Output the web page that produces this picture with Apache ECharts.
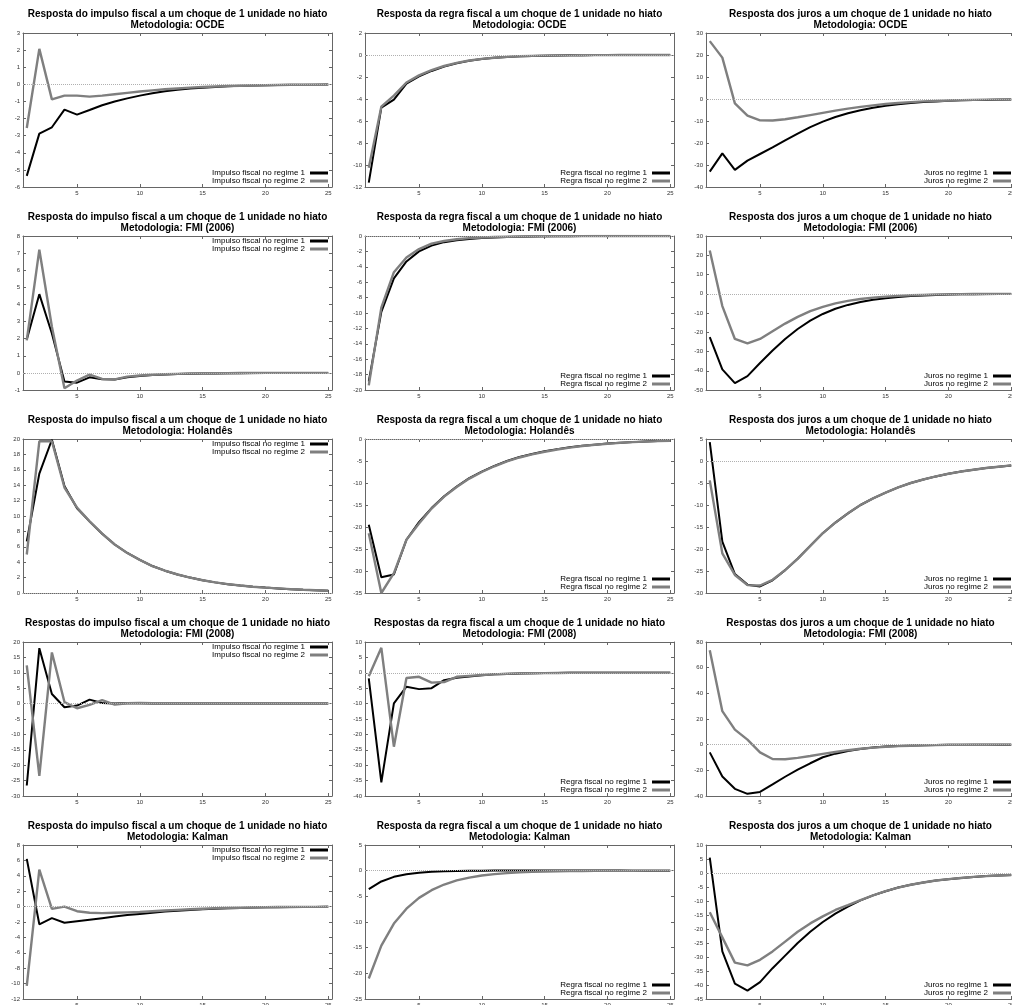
<!DOCTYPE html>
<html>
<head>
<meta charset="utf-8">
<script src="https://cdn.jsdelivr.net/npm/echarts@6/dist/echarts.min.js"></script>
<style>
  html, body { margin: 0; background: #fff; }
  #chart { width: 1012px; height: 1005px; }
</style>
</head>
<body>
<div id="chart"></div>
<script>
// horizon (periods after the shock)
const HORIZON = [1, 2, 3, 4, 5, 6, 7, 8, 9, 10, 11, 12, 13, 14, 15, 16, 17, 18, 19, 20, 21, 22, 23, 24, 25];
const X_TICKS = [5, 10, 15, 20, 25];

// OCDE
const impOcde1 = [-5.35, -2.88, -2.51, -1.48, -1.77, -1.5, -1.22, -1.0, -0.82, -0.66, -0.52, -0.41, -0.32, -0.25, -0.2, -0.15, -0.11, -0.09, -0.07, -0.05, -0.04, -0.03, -0.02, -0.02, -0.01];
const impOcde2 = [-2.55, 2.07, -0.88, -0.66, -0.66, -0.72, -0.66, -0.58, -0.5, -0.42, -0.35, -0.29, -0.24, -0.19, -0.16, -0.13, -0.1, -0.08, -0.07, -0.05, -0.04, -0.03, -0.03, -0.02, -0.02];
const regOcde1 = [-11.6, -4.78, -4.05, -2.6, -1.95, -1.45, -1.05, -0.75, -0.52, -0.37, -0.26, -0.18, -0.12, -0.08, -0.06, -0.04, -0.03, -0.02, -0.01, -0.01, 0, 0, 0, 0, 0];
const regOcde2 = [-10.25, -4.7, -3.7, -2.5, -1.85, -1.38, -1.0, -0.72, -0.5, -0.35, -0.25, -0.17, -0.12, -0.08, -0.06, -0.04, -0.03, -0.02, -0.01, -0.01, 0, 0, 0, 0, 0];
const jurOcde1 = [-33, -24.7, -32.2, -28, -25, -22, -18.8, -15.7, -12.8, -10.3, -8.2, -6.5, -5.1, -4.0, -3.1, -2.4, -1.8, -1.4, -1.1, -0.8, -0.6, -0.5, -0.4, -0.3, -0.2];
const jurOcde2 = [26.3, 18.8, -2, -7.6, -9.7, -9.8, -9.2, -8.3, -7.3, -6.3, -5.3, -4.4, -3.6, -2.9, -2.3, -1.8, -1.4, -1.1, -0.9, -0.7, -0.5, -0.4, -0.3, -0.2, -0.2];

// FMI (2006)
const impFmi06a = [1.95, 4.6, 2.3, -0.51, -0.57, -0.26, -0.37, -0.38, -0.25, -0.18, -0.13, -0.1, -0.07, -0.05, -0.04, -0.03, -0.02, -0.02, -0.01, -0.01, 0, 0, 0, 0, 0];
const impFmi06b = [1.9, 7.2, 2.7, -0.9, -0.45, -0.1, -0.35, -0.38, -0.22, -0.15, -0.11, -0.08, -0.06, -0.04, -0.03, -0.02, -0.02, -0.01, -0.01, 0, 0, 0, 0, 0, 0];
const regFmi06a = [-18.9, -9.85, -5.5, -3.3, -2.0, -1.25, -0.8, -0.55, -0.38, -0.27, -0.19, -0.13, -0.09, -0.06, -0.04, -0.03, -0.02, -0.01, -0.01, 0, 0, 0, 0, 0, 0];
const regFmi06b = [-19.4, -9.3, -4.7, -2.8, -1.7, -1.0, -0.65, -0.42, -0.28, -0.19, -0.13, -0.09, -0.06, -0.04, -0.03, -0.02, -0.01, -0.01, 0, 0, 0, 0, 0, 0, 0];
const jurFmi06a = [-22.5, -39.3, -46.4, -42.8, -36, -29.5, -23.5, -18.3, -14, -10.5, -7.8, -5.8, -4.3, -3.1, -2.3, -1.7, -1.2, -0.9, -0.6, -0.45, -0.3, -0.2, -0.15, -0.1, -0.08];
const jurFmi06b = [22.5, -6.4, -23.5, -25.8, -23.5, -19.5, -15.5, -12, -9, -6.8, -5, -3.7, -2.7, -2, -1.5, -1.1, -0.8, -0.6, -0.4, -0.3, -0.2, -0.15, -0.1, -0.08, -0.05];

// Holandês
const impHol1 = [6.7, 15.5, 19.9, 13.9, 11.0, 9.3, 7.7, 6.3, 5.2, 4.3, 3.5, 2.9, 2.4, 2.0, 1.65, 1.38, 1.15, 0.97, 0.82, 0.7, 0.6, 0.5, 0.42, 0.35, 0.3];
const impHol2 = [5.0, 19.7, 19.7, 13.7, 11.1, 9.3, 7.7, 6.3, 5.2, 4.3, 3.5, 2.9, 2.4, 2.0, 1.65, 1.38, 1.15, 0.97, 0.82, 0.7, 0.6, 0.5, 0.42, 0.35, 0.3];
const regHol1 = [-19.5, -31.4, -30.8, -22.9, -18.9, -15.7, -13.0, -10.8, -8.9, -7.4, -6.1, -5.0, -4.1, -3.4, -2.8, -2.3, -1.9, -1.55, -1.28, -1.05, -0.86, -0.71, -0.58, -0.48, -0.39];
const regHol2 = [-21.4, -35, -30.5, -22.9, -19.2, -15.8, -13.1, -10.9, -9.0, -7.5, -6.2, -5.1, -4.2, -3.5, -2.9, -2.4, -1.95, -1.6, -1.32, -1.08, -0.88, -0.72, -0.59, -0.49, -0.4];
const jurHol1 = [4.3, -18.3, -25.7, -28.1, -28.5, -27.1, -24.8, -22.2, -19.3, -16.4, -14.0, -11.9, -10.0, -8.5, -7.2, -6.0, -5.0, -4.2, -3.5, -2.9, -2.4, -2.0, -1.6, -1.3, -1.0];
const jurHol2 = [-4.4, -21, -25.9, -28.2, -28.3, -27.0, -24.8, -22.2, -19.3, -16.4, -14.0, -11.9, -10.0, -8.5, -7.2, -6.0, -5.0, -4.2, -3.5, -2.9, -2.4, -2.0, -1.6, -1.3, -1.0];

// FMI (2008)
const impFmi08a = [-26.6, 18.0, 3.1, -1.2, -0.65, 1.3, 0.2, 0.0, 0.1, 0.1, 0.05, 0, 0, 0, 0, 0, 0, 0, 0, 0, 0, 0, 0, 0, 0];
const impFmi08b = [12.4, -23.5, 16.6, 0.5, -1.5, -0.4, 1.1, -0.3, 0.1, 0.2, 0.1, 0, 0, 0, 0, 0, 0, 0, 0, 0, 0, 0, 0, 0, 0];
const regFmi08a = [-1.8, -35.6, -9.9, -4.5, -5.3, -5.0, -2.4, -1.6, -1.2, -0.8, -0.5, -0.35, -0.2, -0.15, -0.1, -0.05, 0, 0, 0, 0, 0, 0, 0, 0, 0];
const regFmi08b = [-1.1, 8.1, -24.0, -1.7, -1.3, -3.2, -3.0, -1.3, -1.0, -0.7, -0.5, -0.3, -0.2, -0.15, -0.1, -0.05, 0, 0, 0, 0, 0, 0, 0, 0, 0];
const jurFmi08a = [-6, -24.8, -34.4, -38.3, -36.8, -31, -25, -19.5, -14.5, -9.8, -7, -4.9, -3.4, -2.3, -1.5, -1.0, -0.6, -0.4, -0.25, -0.15, -0.1, -0.05, 0, 0, 0];
const jurFmi08b = [73.5, 26.1, 11.7, 3.9, -6.0, -11.2, -11.4, -10.3, -8.8, -7.2, -5.7, -4.3, -3.2, -2.3, -1.6, -1.1, -0.8, -0.5, -0.35, -0.2, -0.15, -0.1, -0.05, 0, 0];

// Kalman
const impKal1 = [6.2, -2.3, -1.5, -2.1, -1.9, -1.7, -1.5, -1.3, -1.1, -0.95, -0.8, -0.65, -0.55, -0.45, -0.35, -0.28, -0.22, -0.17, -0.13, -0.1, -0.08, -0.06, -0.05, -0.04, -0.03];
const impKal2 = [-10.3, 4.8, -0.3, 0.0, -0.6, -0.8, -0.85, -0.8, -0.75, -0.7, -0.6, -0.5, -0.42, -0.35, -0.28, -0.22, -0.18, -0.14, -0.11, -0.08, -0.06, -0.05, -0.04, -0.03, -0.02];
const regKal1 = [-3.6, -2.1, -1.2, -0.7, -0.4, -0.2, -0.1, -0.05, 0, 0, 0.05, 0.05, 0.05, 0.05, 0.05, 0.05, 0.05, 0.05, 0.05, 0.05, 0.05, 0, 0, 0, 0];
const regKal2 = [-21, -14.6, -10.3, -7.4, -5.3, -3.8, -2.7, -1.9, -1.35, -0.95, -0.68, -0.48, -0.34, -0.24, -0.17, -0.12, -0.09, -0.06, -0.05, -0.03, -0.02, -0.01, 0, 0, 0];
const jurKal1 = [5.5, -28, -39.5, -42, -39, -34, -29.5, -25, -21, -17.5, -14.5, -12, -9.8, -8.0, -6.5, -5.2, -4.2, -3.4, -2.7, -2.2, -1.8, -1.4, -1.1, -0.9, -0.7];
const jurKal2 = [-14, -23, -32, -33, -31, -28, -24.5, -21, -18, -15.5, -13.2, -11.5, -9.7, -8.0, -6.5, -5.2, -4.2, -3.4, -2.7, -2.2, -1.8, -1.4, -1.1, -0.9, -0.7];

const SUBJECTS = ['do impulso fiscal', 'da regra fiscal', 'dos juros'];
const LEGEND_NAMES = [
  ['Impulso fiscal no regime 1', 'Impulso fiscal no regime 2'],
  ['Regra fiscal no regime 1', 'Regra fiscal no regime 2'],
  ['Juros no regime 1', 'Juros no regime 2'],
];
const METHODS = ['OCDE', 'FMI (2006)', 'Holandês', 'FMI (2008)', 'Kalman'];
const PREFIX = ['Resposta', 'Resposta', 'Resposta', 'Respostas', 'Resposta'];

// [min, max, step] per panel, row by row
const Y_RANGES = [
  [[-6, 3, 1], [-12, 2, 2], [-40, 30, 10]],
  [[-1, 8, 1], [-20, 0, 2], [-50, 30, 10]],
  [[0, 20, 2], [-35, 0, 5], [-30, 5, 5]],
  [[-30, 20, 5], [-40, 10, 5], [-40, 80, 20]],
  [[-12, 8, 2], [-25, 5, 5], [-45, 10, 5]],
];
const SERIES = [
  [[impOcde1, impOcde2], [regOcde1, regOcde2], [jurOcde1, jurOcde2]],
  [[impFmi06a, impFmi06b], [regFmi06a, regFmi06b], [jurFmi06a, jurFmi06b]],
  [[impHol1, impHol2], [regHol1, regHol2], [jurHol1, jurHol2]],
  [[impFmi08a, impFmi08b], [regFmi08a, regFmi08b], [jurFmi08a, jurFmi08b]],
  [[impKal1, impKal2], [regKal1, regKal2], [jurKal1, jurKal2]],
];
// legend sits at the top right for these panels, bottom right otherwise
const LEGEND_TOP = [[false, false, false], [true, false, false], [true, false, false], [true, false, false], [true, false, false]];

const FONT = '"Liberation Sans", Arial, Helvetica, sans-serif';
const BORDER = '#666';
const LABEL = '#333';
const C1 = '#000000', C2 = '#7f7f7f';

const COL_LEFT = [23, 365, 706];
const ROW_TOP = [33, 236, 439, 642, 845];
const PW = 309, PH = 154;
const W = 1012;

const chart = echarts.init(document.getElementById('chart'), null, { renderer: 'canvas' });
const grid = [], xAxis = [], yAxis = [], series = [], title = [], legend = [];

for (let r = 0; r < 5; r++) {
  for (let c = 0; c < 3; c++) {
    const gi = grid.length;
    const left = COL_LEFT[c], top = ROW_TOP[r];
    const [ymin, ymax, step] = Y_RANGES[r][c];
    // the right column runs past the edge of the page, as in the original
    grid.push({ left, top, width: PW, height: PH, containLabel: false, outerBoundsMode: 'none' });

    const line = { show: true, onZero: false, lineStyle: { color: BORDER, width: 1 } };
    const tick = { show: true, inside: true, length: 3, lineStyle: { color: BORDER, width: 1 } };
    const lbl = { fontSize: 6, color: LABEL, fontFamily: FONT };
    xAxis.push({
      gridIndex: gi, type: 'value', position: 'bottom', min: 0.7, max: 25.3,
      axisLine: line, axisTick: { ...tick, customValues: X_TICKS },
      axisLabel: { ...lbl, margin: 3, customValues: X_TICKS }, splitLine: { show: false },
    });
    xAxis.push({
      gridIndex: gi, type: 'value', position: 'top', min: 0.7, max: 25.3,
      axisLine: line, axisTick: { ...tick, customValues: X_TICKS },
      axisLabel: { show: false }, splitLine: { show: false },
    });
    yAxis.push({
      gridIndex: gi, type: 'value', position: 'left', min: ymin, max: ymax, interval: step,
      axisLine: line, axisTick: tick, axisLabel: { ...lbl, margin: 3 }, splitLine: { show: false },
    });
    yAxis.push({
      gridIndex: gi, type: 'value', position: 'right', min: ymin, max: ymax, interval: step,
      axisLine: line, axisTick: tick, axisLabel: { show: false }, splitLine: { show: false },
    });

    const [d1, d2] = SERIES[r][c];
    const [n1, n2] = LEGEND_NAMES[c];
    series.push({
      name: n1, type: 'line', xAxisIndex: gi * 2, yAxisIndex: gi * 2,
      data: HORIZON.map((h, k) => [h, d1[k]]), showSymbol: false, symbol: 'none',
      color: C1, lineStyle: { color: C1, width: 2 }, z: 2,
      markLine: {
        silent: true, symbol: 'none', label: { show: false },
        lineStyle: { color: '#b0b0b0', type: 'dotted', width: 1 },
        data: [{ yAxis: 0 }],
      },
    });
    series.push({
      name: n2, type: 'line', xAxisIndex: gi * 2, yAxisIndex: gi * 2,
      data: HORIZON.map((h, k) => [h, d2[k]]), showSymbol: false, symbol: 'none',
      color: C2, lineStyle: { color: C2, width: 2.4 }, z: 3,
    });

    title.push({
      text: PREFIX[r] + ' ' + SUBJECTS[c] + ' a um choque de 1 unidade no hiato\nMetodologia: ' + METHODS[r],
      left: left + PW / 2, top: top - 24.5, textAlign: 'center', padding: 0,
      textStyle: { fontSize: 10, fontWeight: 'bold', lineHeight: 11, color: '#000', fontFamily: FONT },
    });

    legend.push({
      data: [n1, n2], orient: 'vertical', align: 'right', padding: 0, itemGap: 0,
      right: W - (left + PW - 4), top: LEGEND_TOP[r][c] ? top + 1 : top + PH - 18,
      icon: 'rect', itemWidth: 18, itemHeight: 3, selectedMode: false,
      textStyle: { fontSize: 8, lineHeight: 8, color: '#000', fontFamily: FONT, padding: 0 },
    });
  }
}

chart.setOption({
  backgroundColor: '#fff',
  animation: false,
  title, legend, grid, xAxis, yAxis, series,
});
</script>
</body>
</html>
